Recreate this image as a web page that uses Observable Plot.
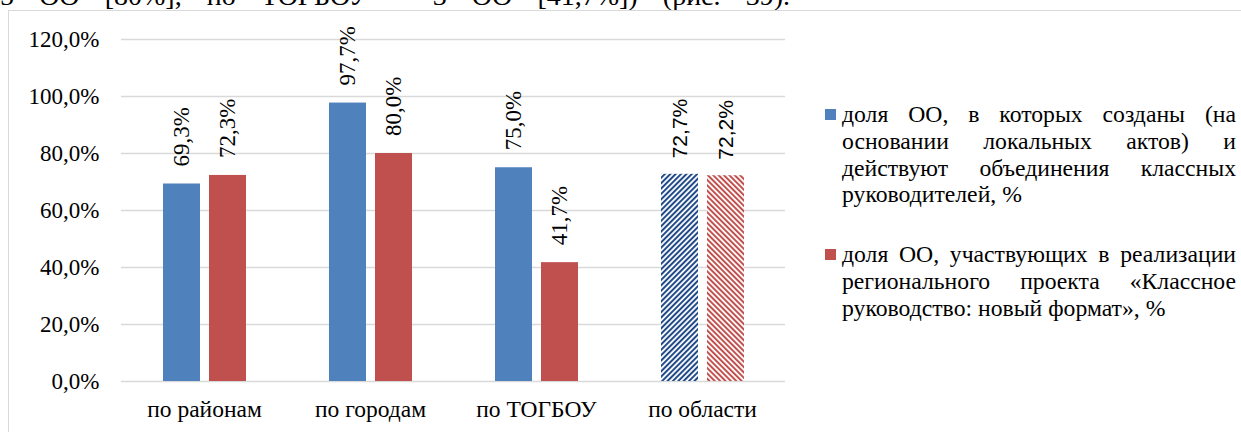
<!DOCTYPE html>
<html>
<head>
<meta charset="utf-8">
<script src="https://cdn.jsdelivr.net/npm/d3@7"></script>
<script src="https://cdn.jsdelivr.net/npm/@observablehq/plot@0.6"></script>
<style>
  html, body { margin: 0; padding: 0; background: #fff; overflow: hidden; }
  #root { position: relative; width: 1241px; height: 432px; overflow: hidden; }
  #frame { position: absolute; left: 8px; top: 10px; width: 1400px; height: 600px; border: 1.5px solid #d9d9d9; box-sizing: border-box; }
  #topline { position: absolute; left: 0; top: -18.4px; width: 790px; font-size: 28px; line-height: 28px; color: #000; white-space: nowrap; text-align: justify; text-align-last: justify; }
  #chart { position: absolute; left: 0; top: 0; }
  #legend { position: absolute; left: 825px; top: 101px; width: 411px; font-size: 23.7px; line-height: 26.8px; color: #000; }
  .item { position: relative; padding-left: 17px; text-align: justify; }
  .item + .item { margin-top: 33px; }
  .sw { position: absolute; left: 0; top: 8px; width: 11px; height: 11px; }
</style>
</head>
<body>
<div id="root">
  <div id="topline">5 ОО [80%], по ТОГБОУ – 3 ОО [41,7%]) (рис. 39).</div>
  <div id="frame"></div>
  <div id="chart"></div>
  <div id="legend"></div>
</div>
<script>
// ---- data ----
const categories = ["по районам", "по городам", "по ТОГБОУ", "по области"];
const seriesNames = [
  "доля ОО, в которых созданы (на основании локальных актов) и действуют объединения классных руководителей, %",
  "доля ОО, участвующих в реализации регионального проекта «Классное руководство: новый формат», %"
];
const seriesA = [69.3, 97.7, 75.0, 72.7];
const seriesB = [72.3, 80.0, 41.7, 72.2];
const yTicks = [0, 20, 40, 60, 80, 100, 120];
const hatchedCategory = "по области";

// ---- styles ----
const solidColors = ["#4f81bd", "#c0504d"];
const hatchColors = ["#1f4a87", "#c0504d"];
const hatchIds = ["hatchA", "hatchB"];
const serifFont = "Liberation Serif";
const sansFont = "Liberation Sans";

const fmt = v => v.toFixed(1).replace(".", ",") + "%";

const rows = [];
[seriesA, seriesB].forEach((vals, si) => {
  vals.forEach((v, ci) => {
    const cat = categories[ci];
    rows.push({
      cat, key: "s" + si, value: v,
      fill: cat === hatchedCategory ? `url(#${hatchIds[si]})` : solidColors[si]
    });
  });
});

const chart = Plot.plot({
  width: 800,
  height: 432,
  marginTop: 39,
  marginBottom: 51,
  marginLeft: 120,
  marginRight: 14,
  style: { fontFamily: serifFont, fontSize: "23px", color: "#000", background: "transparent", overflow: "visible" },
  fx: { domain: categories, padding: 0, label: null },
  x: { domain: ["s0", "s1"], paddingInner: 0.2, paddingOuter: 0.9, axis: null },
  y: { domain: [0, 120], axis: null },
  color: { type: "identity" },
  marks: [
    Plot.gridY(yTicks, { stroke: "#d9d9d9", strokeOpacity: 1, strokeWidth: 1.5 }),
    Plot.barY(rows, { fx: "cat", x: "key", y: "value", fill: "fill" }),
    Plot.text(rows.filter(d => d.cat !== hatchedCategory), {
      fx: "cat", x: "key", y: "value", text: d => fmt(d.value),
      rotate: -90, textAnchor: "start", lineAnchor: "middle", dy: -17.5,
      fontSize: 23, fontFamily: serifFont, fill: "#000"
    }),
    Plot.text(rows.filter(d => d.cat === hatchedCategory), {
      fx: "cat", x: "key", y: "value", text: d => fmt(d.value),
      rotate: -90, textAnchor: "start", lineAnchor: "middle", dy: -16,
      fontSize: 21, fontFamily: sansFont, fill: "#000"
    }),
    Plot.axisY(yTicks, { tickSize: 0, tickPadding: 22, tickFormat: fmt, fontSize: 23, fontFamily: serifFont, label: null }),
    Plot.axisFx({ anchor: "bottom", tickSize: 0, tickPadding: 19, fontSize: 23.5, fontFamily: serifFont, label: null })
  ]
});

// hatch patterns
chart.insertAdjacentHTML("afterbegin", `
<defs>
  <pattern id="${hatchIds[0]}" patternUnits="userSpaceOnUse" width="3.8" height="3.8" patternTransform="rotate(45)">
    <rect width="3.8" height="3.8" fill="#fff"/>
    <rect width="2" height="3.8" fill="${hatchColors[0]}"/>
  </pattern>
  <pattern id="${hatchIds[1]}" patternUnits="userSpaceOnUse" width="3.8" height="3.8" patternTransform="rotate(-45)">
    <rect width="3.8" height="3.8" fill="#fff"/>
    <rect width="2" height="3.8" fill="${hatchColors[1]}"/>
  </pattern>
</defs>`);

// make font families explicit as inline styles
chart.style.fontFamily = serifFont;
chart.querySelectorAll("[font-family]").forEach(el => {
  el.style.fontFamily = el.getAttribute("font-family");
});

document.getElementById("chart").appendChild(chart);

document.getElementById("topline").style.fontFamily = serifFont;

// legend
const legend = document.getElementById("legend");
legend.style.fontFamily = serifFont;
seriesNames.forEach((name, i) => {
  const item = document.createElement("div");
  item.className = "item";
  const sw = document.createElement("span");
  sw.className = "sw";
  sw.style.background = solidColors[i];
  item.appendChild(sw);
  item.appendChild(document.createTextNode(name));
  legend.appendChild(item);
});
</script>
</body>
</html>
